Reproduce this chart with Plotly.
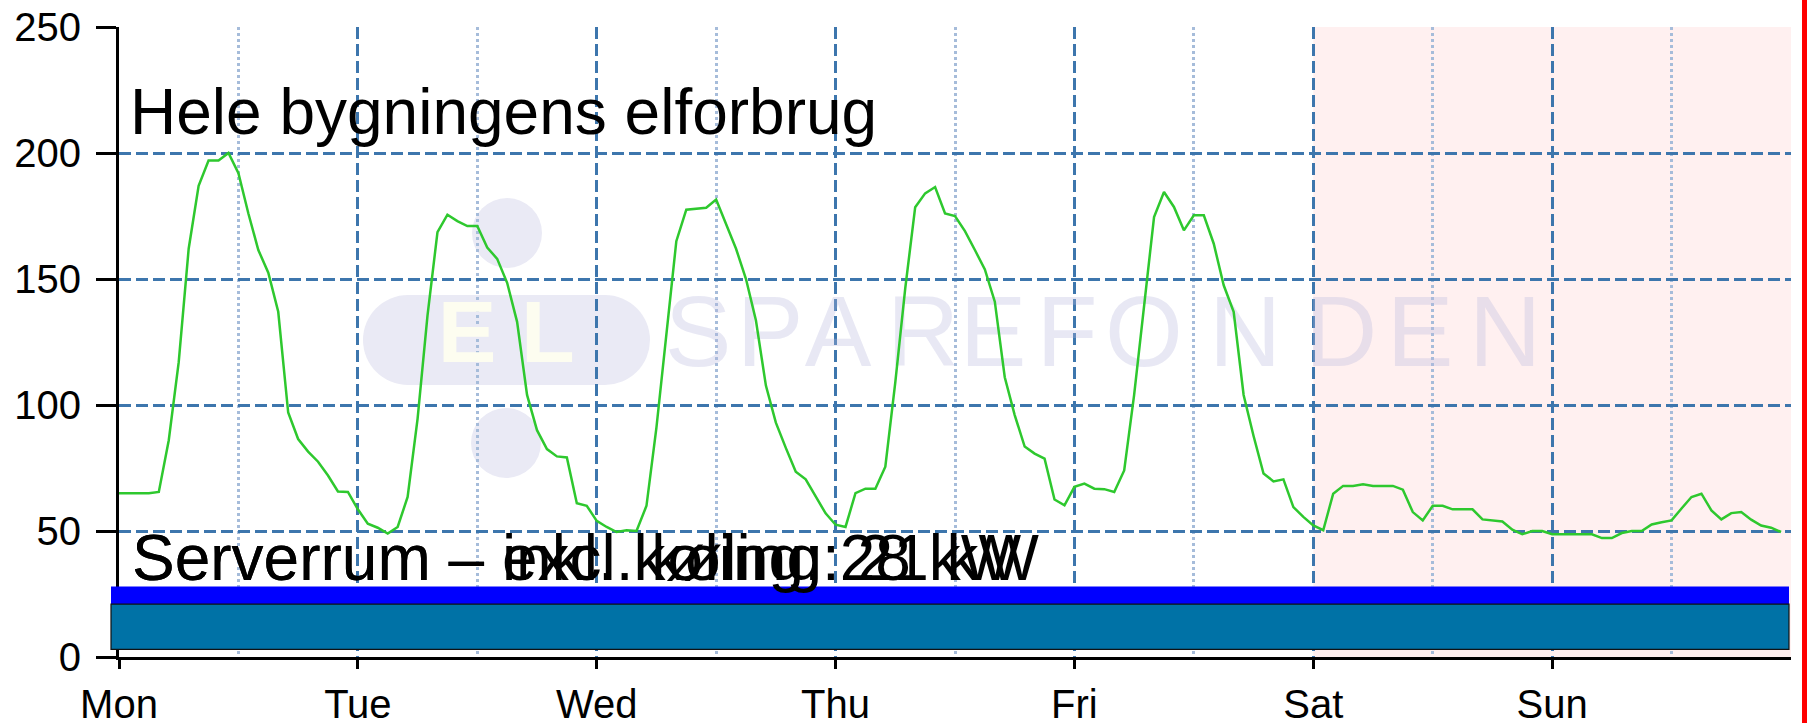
import plotly.graph_objects as go

# ---------------- data ----------------
day_labels = ["Mon", "Tue", "Wed", "Thu", "Fri", "Sat", "Sun"]
y_ticks = [0, 50, 100, 150, 200, 250]

# hourly electricity use of the whole building (kW), Mon 00:00 ... Sun 23:00
load_mon = [65, 65, 65, 65, 65.5, 86, 117, 162, 187, 197, 197, 200,
            192, 176, 161.5, 152.5, 137, 97, 86.5, 81.5, 77.5, 72, 65.7, 65.5]
load_tue = [58.6, 52.9, 51.3, 49, 51.6, 63.5, 94.5, 135.6, 168.6, 175.5, 173, 171,
            171, 162.5, 158, 148.5, 133, 104, 90, 82.5, 79.6, 79.2, 61, 60]
load_wed = [54, 51.6, 49.6, 50.3, 50, 60, 91, 127.5, 165, 177.5, 178, 178.3,
            181.5, 171.5, 162, 150, 133.5, 107.7, 93, 83, 73.5, 70.5, 63.5, 57]
load_thu = [52.5, 51.6, 65, 66.8, 66.8, 75.5, 109, 146.3, 178.5, 184, 186.5, 176,
            175, 169, 161.5, 153.8, 141, 111, 96, 83.5, 80.7, 78.7, 62.5, 60.2]
load_fri = [67.5, 68.8, 66.8, 66.6, 65.5, 74, 104, 139.5, 174.6, 184.5, 178.6, 169.3,
            175.3, 175.3, 164, 147.5, 137, 104, 87.7, 72.8, 69.7, 70.5, 59.5, 55.6]
load_sat = [52.2, 50.3, 64.8, 67.9, 67.9, 68.5, 67.9, 67.9, 67.9, 66.4, 57.5, 54.2,
            60, 60, 58.6, 58.6, 58.6, 54.6, 54.2, 53.8, 50.5, 48.7, 50, 50]
load_sun = [48.7, 48.7, 48.7, 48.7, 48.7, 47.2, 47.2, 49.2, 50, 50, 52.6, 53.5,
            54.2, 58.9, 63.5, 64.8, 58.2, 54.6, 57.1, 57.5, 54.5, 52.2, 51.3, 49.6]

server_excl_kw = 21   # Serverrum - excl. køling
server_incl_kw = 28   # Serverrum - inkl. køling
weekend_start_day = 5  # Saturday

title_text = "Hele bygningens elforbrug"
server_excl_text = "Serverrum \u2013 excl. k\u00f8ling: 21 kW"
server_incl_text = "Serverrum \u2013 inkl. k\u00f8ling: 28 kW"

# ---------------- build ----------------
load = load_mon + load_tue + load_wed + load_thu + load_fri + load_sat + load_sun
t_days = [h / 24 for h in range(len(load))]
n_days = len(day_labels)

W, H = 1810, 723
ML, MR, MT, MB = 119, 19, 27, 66
PW, PH = W - ML - MR, H - MT - MB
FONT = "Liberation Sans, Arial, sans-serif"


def px2x(px):   # pixel -> data x (days)
    return (px - ML) / PW * n_days


def py2y(py):   # pixel -> data y
    return (H - MB - py) / PH * 250


def px2paper(px):
    return (px - ML) / PW


def py2paper(py):
    return (H - MB - py) / PH


fig = go.Figure()

# watermark letters (below the curve)
wm_letters = list("SPAREFONDEN")
wm_px = [698, 770, 838, 923, 993, 1067, 1144, 1245, 1341, 1420, 1505]
fig.add_trace(go.Scatter(
    x=[px2x(p) for p in wm_px], y=[py2y(341)] * len(wm_px),
    mode="text", text=wm_letters,
    textfont=dict(family=FONT, size=100, color="rgba(185,185,222,0.32)"),
    hoverinfo="skip", showlegend=False, cliponaxis=False))
fig.add_trace(go.Scatter(
    x=[px2x(467), px2x(548)], y=[py2y(340)] * 2,
    mode="text", text=["E", "L"],
    textfont=dict(family=FONT, size=88, color="#fdfdf0", weight="bold"),
    hoverinfo="skip", showlegend=False, cliponaxis=False))

# load curve
fig.add_trace(go.Scatter(
    x=t_days, y=load, mode="lines",
    line=dict(color="#2ec82e", width=2.5),
    hoverinfo="skip", showlegend=False))

shapes = []
# weekend shading
shapes.append(dict(type="rect", xref="x", yref="y", x0=weekend_start_day, x1=n_days,
                   y0=0, y1=250, fillcolor="#fff0f0", line=dict(width=0), layer="below"))
# watermark shapes
wm_col = "#eaeaf5"
for cx, cy, r in [(507, 233, 35), (506, 443, 35), (408, 340, 45), (605, 340, 45)]:
    shapes.append(dict(type="circle", xref="paper", yref="paper",
                       x0=px2paper(cx - r), x1=px2paper(cx + r),
                       y0=py2paper(cy + r), y1=py2paper(cy - r),
                       fillcolor=wm_col, line=dict(width=0), layer="below"))
shapes.append(dict(type="rect", xref="paper", yref="paper",
                   x0=px2paper(408), x1=px2paper(605), y0=py2paper(385), y1=py2paper(295),
                   fillcolor=wm_col, line=dict(width=0), layer="below"))

# server room bars
bar_x0 = px2paper(111)
bar_x1 = px2paper(1789)
shapes.append(dict(type="rect", xref="paper", yref="y", x0=bar_x0, x1=bar_x1,
                   y0=server_excl_kw, y1=server_incl_kw, fillcolor="#0000ff",
                   line=dict(width=0), layer="above"))
shapes.append(dict(type="rect", xref="paper", yref="y", x0=bar_x0, x1=bar_x1,
                   y0=3, y1=server_excl_kw, fillcolor="#0072a6",
                   line=dict(width=1.2, color="#111111"), layer="above"))
# red border line on the right
shapes.append(dict(type="line", xref="paper", yref="paper",
                   x0=px2paper(1804.5), x1=px2paper(1804.5),
                   y0=py2paper(H + 2), y1=py2paper(-2),
                   line=dict(color="#ff0000", width=5), layer="above"))

annotations = [
    dict(text=title_text, x=px2x(128), y=py2y(112), xref="x", yref="y",
         xanchor="left", yanchor="middle", showarrow=False,
         font=dict(family=FONT, size=64, color="#000000")),
    dict(text=server_excl_text, x=px2x(130), y=py2y(558), xref="x", yref="y",
         xanchor="left", yanchor="middle", showarrow=False,
         font=dict(family=FONT, size=64, color="#000000")),
    dict(text=server_incl_text, x=px2x(130), y=py2y(558), xref="x", yref="y",
         xanchor="left", yanchor="middle", showarrow=False,
         font=dict(family=FONT, size=64, color="#000000")),
]

grid_col = "#3d76ad"
fig.update_layout(
    width=W, height=H,
    margin=dict(l=ML, r=MR, t=MT, b=MB, pad=0, autoexpand=False),
    paper_bgcolor="white", plot_bgcolor="white",
    shapes=shapes, annotations=annotations,
    showlegend=False,
    xaxis=dict(
        automargin=False,
        range=[0, n_days], tickvals=list(range(n_days)), ticktext=day_labels,
        showgrid=True, gridcolor=grid_col, gridwidth=3, griddash="12px,5px",
        minor=dict(tickvals=[d + 0.5 for d in range(n_days)], showgrid=True,
                   gridcolor="#a6bcda", gridwidth=3, griddash="3px,3px", ticks=""),
        ticks="outside", ticklen=9, tickwidth=3, tickcolor="black",
        showline=True, linecolor="black", linewidth=3,
        zeroline=False, ticklabelstandoff=1,
        tickfont=dict(family=FONT, size=40, color="black"),
    ),
    yaxis=dict(
        automargin=False,
        range=[0, 250], tickvals=y_ticks,
        showgrid=True, gridcolor=grid_col, gridwidth=3, griddash="12px,5px",
        ticks="outside", ticklen=20, tickwidth=3, tickcolor="black",
        showline=True, linecolor="black", linewidth=3,
        zeroline=False, ticklabelstandoff=7,
        tickfont=dict(family=FONT, size=40, color="black"),
    ),
)

fig.write_html(
    "out.html",
    config={"displayModeBar": False},
    post_script="document.body.style.margin='0';document.body.style.overflow='hidden';",
)
